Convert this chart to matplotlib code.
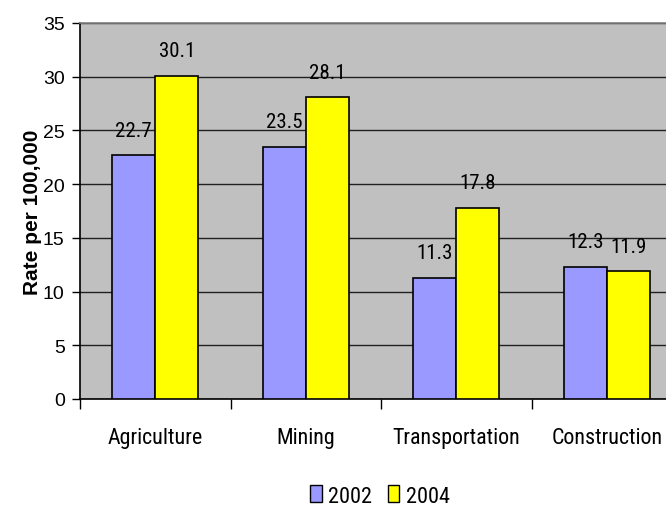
import matplotlib
matplotlib.use("Agg")
import matplotlib.pyplot as plt
from matplotlib.patches import Patch
import numpy as np

categories = ["Agriculture", "Mining", "Transportation", "Construction"]
series_names = ["2002", "2004"]
rates_2002 = [22.7, 23.5, 11.3, 12.3]
rates_2004 = [30.1, 28.1, 17.8, 11.9]
y_ticks = [0, 5, 10, 15, 20, 25, 30, 35]

REGULAR = ["Liberation Sans", "DejaVu Sans"]
NARROW = ["Roboto Condensed", "Liberation Sans", "DejaVu Sans"]
plt.rcParams["font.family"] = REGULAR

fig = plt.figure(figsize=(6.66, 5.10), dpi=100)
ax = fig.add_axes([80 / 666, 110 / 510, 602 / 666, 376 / 510])
ax.set_facecolor("#C0C0C0")

x = np.arange(len(categories))
w = 0.286
colors = ["#9999FF", "#FFFF00"]
for offset, vals, col in [(-w / 2, rates_2002, colors[0]), (w / 2, rates_2004, colors[1])]:
    bars = ax.bar(x + offset, vals, width=w, color=col, edgecolor="black",
                  linewidth=1.2, zorder=3)
    for b, v in zip(bars, vals):
        ax.annotate(f"{v:.1f}", (b.get_x() + b.get_width() / 2, v),
                    xytext=(0, 14), textcoords="offset points",
                    ha="center", va="baseline", fontsize=15, family=NARROW, zorder=4)

ax.set_xlim(-0.5, len(categories) - 0.5)
ax.set_ylim(0, 35)
ax.set_yticks(y_ticks)
ax.set_yticklabels([str(t) for t in y_ticks], fontsize=14)
ax.yaxis.grid(True, color="#202020", linewidth=1.0, zorder=1)
ax.set_axisbelow(True)

ax.set_xticks(x)
ax.set_xticklabels(categories, fontsize=15.8, family=NARROW)
ax.tick_params(axis="x", length=0, pad=20)
ax.set_xticks(np.arange(-0.5, len(categories)), minor=True)
ax.tick_params(axis="x", which="minor", length=7, width=1, direction="out", color="black")
ax.tick_params(axis="y", length=6, width=1, direction="out", pad=5)

for side in ["left", "bottom"]:
    ax.spines[side].set_color("black")
    ax.spines[side].set_linewidth(1.2)
ax.spines["top"].set_color("#808080")
ax.spines["top"].set_linewidth(1.2)
ax.spines["right"].set_color("#808080")

ax.set_ylabel("Rate per 100,000", fontsize=15, fontweight="bold", labelpad=1)

handles = [Patch(facecolor=c, edgecolor="black", linewidth=1.0) for c in colors]
fig.legend(handles, series_names, loc="center", bbox_to_anchor=(380 / 666, 13 / 510),
           ncol=2, frameon=False, prop={"family": NARROW, "size": 16},
           handlelength=0.5, handleheight=0.8, handletextpad=0.3, columnspacing=0.7,
           borderpad=0.2)

fig.savefig("out.png", dpi=100)
